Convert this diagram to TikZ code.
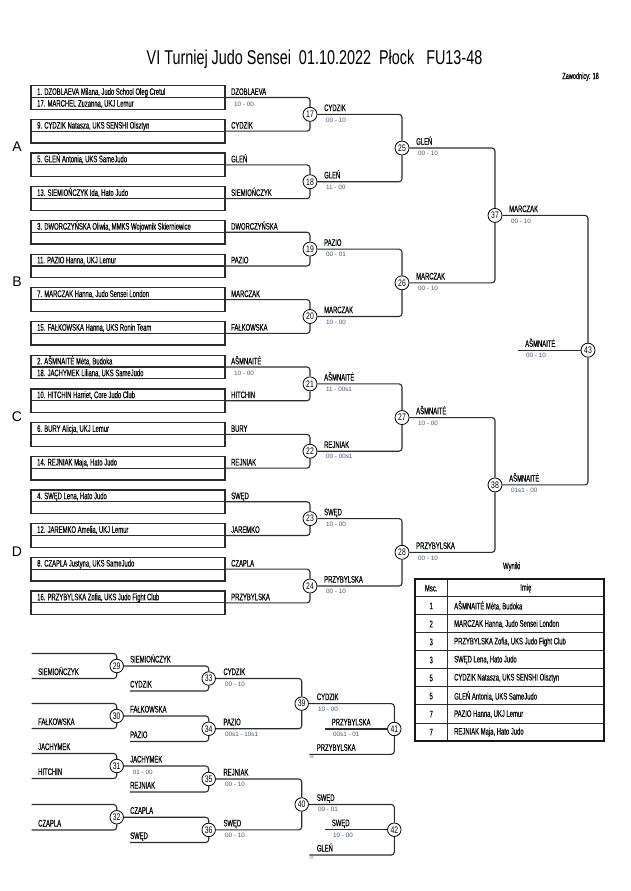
\documentclass[tikz,border=0pt]{standalone}
\usepackage{fontspec}
\setmainfont{Liberation Sans}[FakeStretch=0.62,FakeBold=0.3]
\newfontfamily\plainfont{Liberation Sans}
\newfontfamily\titlefont{Liberation Sans}[FakeStretch=0.72]
\definecolor{scorecol}{RGB}{80,80,125}
\definecolor{linecol}{RGB}{45,45,45}
\begin{document}
\begin{tikzpicture}[x=1pt,y=-1pt,
  box/.style={draw=linecol, line width=1.3pt, minimum width=194pt, minimum height=23.6pt, inner sep=0pt, outer sep=0pt},
  midline/.style={draw=linecol, line width=1.1pt},
  nm/.style={anchor=base west, inner sep=0pt, font=\fontsize{9.5}{10}\selectfont},
  sc/.style={anchor=base west, inner sep=0pt, text=scorecol, font=\plainfont\fontsize{6.3}{7}\selectfont},
  mc/.style={circle, draw=black, line width=0.8pt, fill=white, minimum size=14pt, inner sep=0pt, font=\titlefont\fontsize{9.5}{9}\selectfont},
  rc/.style={mc, minimum size=13.5pt},
  conn/.style={draw=linecol, line width=1.1pt, rounded corners=3pt},
  sect/.style={font=\plainfont\fontsize{14}{14}\selectfont, inner sep=0pt},
  tinyl/.style={anchor=north west, inner sep=0pt, text=black!60, font=\plainfont\fontsize{4}{4}\selectfont},
  cell/.style={inner sep=0pt, font=\fontsize{9.5}{10}\selectfont},
]
\fill[white] (0,0) rectangle (630,891);
\useasboundingbox (0,0) rectangle (630,891);

% title
\node[inner sep=0pt, font=\titlefont\fontsize{20}{20}\selectfont] (title) at (314.5,59) {VI Turniej Judo Sensei\ \ 01.10.2022\ \ Płock\ \ \ FU13-48};
\node[anchor=east, inner sep=0pt, font=\fontsize{9}{9}\selectfont] (zaw) at (599,76.7) {Zawodnicy: 18};

% section letters
\node[sect] (sA) at (17,147) {A};
\node[sect] (sB) at (17,281.8) {B};
\node[sect] (sC) at (17,416.5) {C};
\node[sect] (sD) at (17,551.3) {D};

% entry boxes
\foreach \i/\ta/\tb/\w/\s in {
 0/{1. DZOBLAEVA Milana, Judo School Oleg Cretul}/{17. MARCHEL Zuzanna, UKJ Lemur}/DZOBLAEVA/{10 - 00},
 1/{9. CYDZIK Natasza, UKS SENSHI Olsztyn}/{}/CYDZIK/{},
 2/{5. GLEŃ Antonia, UKS SameJudo}/{}/GLEŃ/{},
 3/{13. SIEMIOŃCZYK Ida, Hato Judo}/{}/SIEMIOŃCZYK/{},
 4/{3. DWORCZYŃSKA Oliwia, MMKS Wojownik Skierniewice}/{}/DWORCZYŃSKA/{},
 5/{11. PAZIO Hanna, UKJ Lemur}/{}/PAZIO/{},
 6/{7. MARCZAK Hanna, Judo Sensei London}/{}/MARCZAK/{},
 7/{15. FAŁKOWSKA Hanna, UKS Ronin Team}/{}/FAŁKOWSKA/{},
 8/{2. AŠMNAITĖ Mėta, Budoka}/{18. JACHYMEK Liliana, UKS SameJudo}/AŠMNAITĖ/{10 - 00},
 9/{10. HITCHIN Harriet, Core Judo Club}/{}/HITCHIN/{},
 10/{6. BURY Alicja, UKJ Lemur}/{}/BURY/{},
 11/{14. REJNIAK Maja, Hato Judo}/{}/REJNIAK/{},
 12/{4. SWĘD Lena, Hato Judo}/{}/SWĘD/{},
 13/{12. JAREMKO Amelia, UKJ Lemur}/{}/JAREMKO/{},
 14/{8. CZAPLA Justyna, UKS SameJudo}/{}/CZAPLA/{},
 15/{16. PRZYBYLSKA Zofia, UKS Judo Fight Club}/{}/PRZYBYLSKA/{}}{
 \pgfmathsetmacro\T{85.7+33.69*\i}
 \node[box] (b\i) at (128,\T+11.8) {};
 \draw[midline] (b\i.west) -- (b\i.east);
 \node[nm] (p\i) at (37,\T+9.2) {\ta};
 \node[nm] (q\i) at (37,\T+21) {\tb};
 \node[nm] (w\i) at (231,\T+9.2) {\w};
 \node[sc] (s\i) at (234,\T+20.3) {\s};
}

% main bracket circles
\foreach \n/\x/\y in {17/310/114.35,18/310/181.73,19/310/249.11,20/310/316.49,
  21/310/383.87,22/310/451.25,23/310/518.63,24/310/586.01,
  25/402/148.04,26/402/282.80,27/402/417.56,28/402/552.32,
  37/495/215.42,38/495/484.94,43/588/350.18}{
  \node[mc] (c\n) at (\x,\y) {\n};
}

% connectors round 1
\foreach \j in {0,...,7}{
  \pgfmathtruncatemacro\a{2*\j}
  \pgfmathtruncatemacro\b{2*\j+1}
  \pgfmathtruncatemacro\c{17+\j}
  \draw[conn] (b\a.east) -| (c\c);
  \draw[conn] (b\b.east) -| (c\c);
}
% later rounds
\foreach \f/\t in {17/25,18/25,19/26,20/26,21/27,22/27,23/28,24/28,25/37,26/37,27/38,28/38,37/43,38/43}{
  \draw[conn] (c\f) -| (c\t);
}
\coordinate (f43) at (518,350.18);
\draw[conn] (f43) -- (c43);

% winner labels and scores
\foreach \n/\x/\y/\w/\s in {
 17/310/114.35/CYDZIK/{00 - 10},
 18/310/181.73/GLEŃ/{11 - 00},
 19/310/249.11/PAZIO/{00 - 01},
 20/310/316.49/MARCZAK/{10 - 00},
 21/310/383.87/AŠMNAITĖ/{11 - 00s1},
 22/310/451.25/REJNIAK/{00 - 00s1},
 23/310/518.63/SWĘD/{10 - 00},
 24/310/586.01/PRZYBYLSKA/{00 - 10},
 25/402/148.04/GLEŃ/{00 - 10},
 26/402/282.80/MARCZAK/{00 - 10},
 27/402/417.56/AŠMNAITĖ/{10 - 00},
 28/402/552.32/PRZYBYLSKA/{00 - 10},
 37/495/215.42/MARCZAK/{00 - 10},
 38/495/484.94/AŠMNAITĖ/{01s1 - 00}}{
 \node[nm] (l\n) at (\x+14,\y-3.3) {\w};
 \node[sc] (k\n) at (\x+16,\y+7.7) {\s};
}
\node[nm] (l43) at (525,346.9) {AŠMNAITĖ};
\node[sc] (k43) at (526,357.9) {00 - 10};

% ---------- repechage ----------
\node[rc] (c29) at (116.7,666) {29};
\node[rc] (c30) at (116.7,716) {30};
\node[rc] (c31) at (116.7,766) {31};
\node[rc] (c32) at (116.7,817.25) {32};
\node[rc] (c33) at (208.7,678.5) {33};
\node[rc] (c34) at (208.7,728.75) {34};
\node[rc] (c35) at (208.7,779) {35};
\node[rc] (c36) at (208.7,829.9) {36};
\node[rc] (c39) at (301.7,703.6) {39};
\node[rc] (c40) at (301.7,804.45) {40};
\node[rc] (c41) at (394.3,728.95) {41};
\node[rc] (c42) at (394.3,829.7) {42};

\coordinate (r29a) at (31.7,653.5);
\coordinate (r29b) at (31.7,678.5);
\coordinate (r30a) at (31.7,703.5);
\coordinate (r30b) at (31.7,728.5);
\coordinate (r31a) at (31.7,753.5);
\coordinate (r31b) at (31.7,778.5);
\coordinate (r32a) at (31.7,804.5);
\coordinate (r32b) at (31.7,830);
\coordinate (r33b) at (130,691);
\coordinate (r34b) at (130,741.5);
\coordinate (r35b) at (130,792);
\coordinate (r36b) at (130,842.5);
\coordinate (r41a) at (325,728.95);
\coordinate (r41b) at (309.3,754.3);
\coordinate (r42a) at (325,829.7);
\coordinate (r42b) at (309.3,855);

\foreach \f/\t in {r29a/c29,r29b/c29,r30a/c30,r30b/c30,r31a/c31,r31b/c31,r32a/c32,r32b/c32,
  c29/c33,r33b/c33,c30/c34,r34b/c34,c31/c35,r35b/c35,c32/c36,r36b/c36,
  c33/c39,c34/c39,c35/c40,c36/c40,c39/c41,r41b/c41,c40/c42,r42b/c42}{
  \draw[conn] (\f) -| (\t);
}
\draw[conn] (r41a) -- (c41);
\draw[conn] (r42a) -- (c42);

% repechage labels
\node[nm] (e1) at (38,675) {SIEMIOŃCZYK};
\node[nm] (e2) at (38,725) {FAŁKOWSKA};
\node[nm] (e3) at (38,750) {JACHYMEK};
\node[nm] (e4) at (38,775) {HITCHIN};
\node[nm] (e5) at (38,826.5) {CZAPLA};

\node[nm] (g1) at (130,662.5) {SIEMIOŃCZYK};
\node[nm] (g2) at (130,687.5) {CYDZIK};
\node[nm] (g3) at (130,712.5) {FAŁKOWSKA};
\node[nm] (g4) at (130,738) {PAZIO};
\node[nm] (g5) at (130,762.5) {JACHYMEK};
\node[sc] (h5) at (132.7,774.5) {01 - 00};
\node[nm] (g6) at (130,788.5) {REJNIAK};
\node[nm] (g7) at (130,813.75) {CZAPLA};
\node[nm] (g8) at (130,839) {SWĘD};

\node[nm] (l33) at (223.3,675) {CYDZIK};
\node[sc] (k33) at (225,686) {00 - 10};
\node[nm] (l34) at (223.3,725.25) {PAZIO};
\node[sc] (k34) at (225,736.25) {00s1 - 10s1};
\node[nm] (l35) at (223.3,775.5) {REJNIAK};
\node[sc] (k35) at (225,786.5) {00 - 10};
\node[nm] (l36) at (223.3,826.4) {SWĘD};
\node[sc] (k36) at (225,837.4) {00 - 10};

\node[nm] (l39) at (316.7,700.1) {CYDZIK};
\node[sc] (k39) at (318,711.1) {10 - 00};
\node[nm] (l41a) at (331.7,725.45) {PRZYBYLSKA};
\node[sc] (k41a) at (333,736.45) {00s1 - 01};
\node[nm] (l41b) at (316.7,750.8) {PRZYBYLSKA};
\node[tinyl] (t38) at (309.3,755.6) {38};

\node[nm] (l40) at (316.7,800.95) {SWĘD};
\node[sc] (k40) at (318,811.95) {00 - 01};
\node[nm] (l42a) at (331.7,826.2) {SWĘD};
\node[sc] (k42a) at (333,837.2) {10 - 00};
\node[nm] (l42b) at (316.7,851.5) {GLEŃ};
\node[tinyl] (t37) at (309.3,856.3) {37};

% ---------- results table ----------
\node[cell] (wyn) at (511.7,566.7) {Wyniki};
\foreach \k in {0,...,7}{
  \draw[line width=0.9pt, draw=linecol] (415,596.7+18.04*\k) -- (604.3,596.7+18.04*\k);
}
\draw[line width=0.9pt, draw=linecol] (447.3,579) -- (447.3,741);
\draw[line width=1.8pt, draw=black!90] (415,579) rectangle (604.3,741);
\node[cell] (hm) at (431.2,588.2) {Msc.};
\node[cell] (hi) at (525.8,588.2) {Imię};
\foreach \r/\m/\t in {0/1/{AŠMNAITĖ Mėta, Budoka},
  1/2/{MARCZAK Hanna, Judo Sensei London},
  2/3/{PRZYBYLSKA Zofia, UKS Judo Fight Club},
  3/3/{SWĘD Lena, Hato Judo},
  4/5/{CYDZIK Natasza, UKS SENSHI Olsztyn},
  5/5/{GLEŃ Antonia, UKS SameJudo},
  6/7/{PAZIO Hanna, UKJ Lemur},
  7/7/{REJNIAK Maja, Hato Judo}}{
  \node[cell] (tm\r) at (431.2,605.9+18.04*\r) {\m};
  \node[cell, anchor=west] (tn\r) at (454,605.9+18.04*\r) {\t};
}
\end{tikzpicture}
\end{document}
